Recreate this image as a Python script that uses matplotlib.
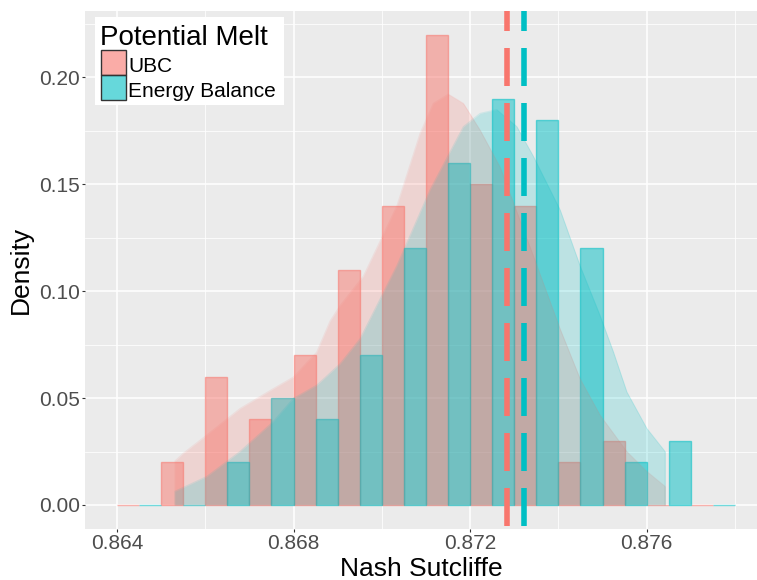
import numpy as np
import matplotlib
matplotlib.use("Agg")
import matplotlib.pyplot as plt
from matplotlib.patches import Rectangle

# ---------------- data ----------------
groups = ["UBC", "Energy Balance"]
colors = ["#F8766D", "#00BFC4"]

bin_left = [0.864, 0.865, 0.866, 0.867, 0.868, 0.869, 0.870,
            0.871, 0.872, 0.873, 0.874, 0.875, 0.876, 0.877]
bin_width = 0.001
ubc_hist = [0.00, 0.02, 0.06, 0.04, 0.07, 0.11, 0.14,
            0.22, 0.15, 0.14, 0.02, 0.03, 0.00, 0.00]
eb_hist = [0.00, 0.00, 0.02, 0.05, 0.04, 0.07, 0.12,
           0.16, 0.19, 0.18, 0.12, 0.02, 0.03, 0.00]

ubc_dens_x = [0.865314, 0.865503, 0.866033, 0.866788, 0.867542, 0.867996,
              0.868526, 0.868827, 0.869054, 0.869582, 0.870339, 0.870867,
              0.871168, 0.871508, 0.871848, 0.872227, 0.872680, 0.873435,
              0.874040, 0.874493, 0.874946, 0.875551, 0.876005, 0.876419]
ubc_dens_y = [0.0206, 0.0242, 0.0327, 0.0451, 0.0544, 0.0598,
              0.0715, 0.0860, 0.0932, 0.1070, 0.1397, 0.1738,
              0.1878, 0.1921, 0.1878, 0.1753, 0.1580, 0.1164,
              0.0823, 0.0590, 0.0420, 0.0250, 0.0157, 0.0087]

eb_dens_x = [0.865314, 0.866033, 0.866788, 0.867542, 0.867996, 0.868526,
             0.869054, 0.869507, 0.870339, 0.871094, 0.871848, 0.872227,
             0.872605, 0.873058, 0.873435, 0.874040, 0.874493, 0.874946,
             0.875248, 0.875551, 0.876005, 0.876419]
eb_dens_y = [0.0064, 0.0133, 0.0250, 0.0390, 0.0498, 0.0560,
             0.0660, 0.0777, 0.1118, 0.1474, 0.1769, 0.1831,
             0.1849, 0.1770, 0.1630, 0.1380, 0.1118, 0.0885,
             0.0715, 0.0529, 0.0358, 0.0250]

mean_lines = [0.87284, 0.87321]

x_ticks = [0.864, 0.868, 0.872, 0.876]
x_tick_labels = ["0.864", "0.868", "0.872", "0.876"]
y_ticks = [0.00, 0.05, 0.10, 0.15, 0.20]
y_tick_labels = ["0.00", "0.05", "0.10", "0.15", "0.20"]

# ---------------- figure ----------------
plt.rcParams['font.family'] = ['Liberation Sans', 'DejaVu Sans']
W, H = 757, 580
fig = plt.figure(figsize=(W / 100, H / 100), dpi=100)
fig.patch.set_facecolor("white")

pl, pr, pt, pb = 85, 757, 11, 528.5
ax = fig.add_axes([pl / W, 1 - pb / H, (pr - pl) / W, (pb - pt) / H])
ax.set_facecolor("#EBEBEB")
for s in ax.spines.values():
    s.set_visible(False)

# grid / ticks
ax.set_xticks(x_ticks)
ax.set_xticklabels(x_tick_labels)
ax.set_yticks(y_ticks)
ax.set_yticklabels(y_tick_labels)
ax.set_xticks([0.866, 0.870, 0.874, 0.878], minor=True)
ax.set_yticks([0.025, 0.075, 0.125, 0.175, 0.225], minor=True)
ax.grid(which="major", color="white", linewidth=1.1)
ax.grid(which="minor", color="white", linewidth=0.55)
ax.set_axisbelow(True)
ax.tick_params(which="minor", length=0)
ax.tick_params(which="major", length=2.3, width=0.8, color="#333333",
               labelsize=15, labelcolor="#4D4D4D", pad=1.5)

# histogram (dodged halves)
left = np.array(bin_left)
half = bin_width / 2
for i, (vals, c) in enumerate([(ubc_hist, colors[0]), (eb_hist, colors[1])]):
    ax.bar(left + i * half, vals, width=half, align="edge",
           color=matplotlib.colors.to_rgba(c, 0.5),
           edgecolor=matplotlib.colors.to_rgba(c, 0.55), linewidth=1.0,
           zorder=2)

# density curves
for dx, dy, c in [(ubc_dens_x, ubc_dens_y, colors[0]),
                  (eb_dens_x, eb_dens_y, colors[1])]:
    dx = np.array(dx)
    dy = np.array(dy)
    ax.fill_between(dx, 0, dy, color=c, alpha=0.2, linewidth=0, zorder=3)
    ax.plot(np.r_[dx[0], dx, dx[-1]], np.r_[0, dy, 0], color=c, alpha=0.12,
            linewidth=0.8, zorder=3)

# mean lines
lw = 4.0
for xm, c in zip(mean_lines, colors):
    ax.axvline(xm, color=c, linewidth=lw,
               linestyle=(9.36, (6.84, 3.06)), zorder=4,
               solid_capstyle="butt", dash_capstyle="butt")

# limits last (set_ticks can expand them)
ax.set_xlim(0.863275, 0.87850)
ax.set_ylim(-0.011, 0.231)

ax.set_xlabel("Nash Sutcliffe", fontsize=19, color="black")
ax.xaxis.label.set_va("baseline")
ax.xaxis.set_label_coords(((pl + pr) / 2) / W, 1 - 575.5 / H,
                          transform=fig.transFigure)
ax.set_ylabel("Density", fontsize=19, color="black", labelpad=4)


# ---------------- legend (manual) ----------------
def fx(px):
    return px / W


def fy(py):
    return 1 - py / H


fig.patches.append(Rectangle((fx(95), fy(105)), fx(284) - fx(95), fy(17) - fy(105),
                             transform=fig.transFigure, facecolor="white",
                             edgecolor="none", zorder=10))
fig.text(fx(100), fy(45), "Potential Melt", fontsize=20, color="black",
         va="baseline", ha="left", zorder=11)
key_tops = [50, 75]
baselines = [71.7, 97.3]
for g, c, kt, bl in zip(groups, colors, key_tops, baselines):
    fig.patches.append(Rectangle((fx(101), fy(kt + 25)), fx(126) - fx(101), fy(kt) - fy(kt + 25),
                                 transform=fig.transFigure,
                                 facecolor=matplotlib.colors.to_rgba(c, 0.6),
                                 edgecolor="#333333", linewidth=1.0, zorder=11))
    fig.text(fx(128), fy(bl), g, fontsize=15, color="black",
             va="baseline", ha="left", zorder=12)

fig.savefig("out.png", dpi=100)
